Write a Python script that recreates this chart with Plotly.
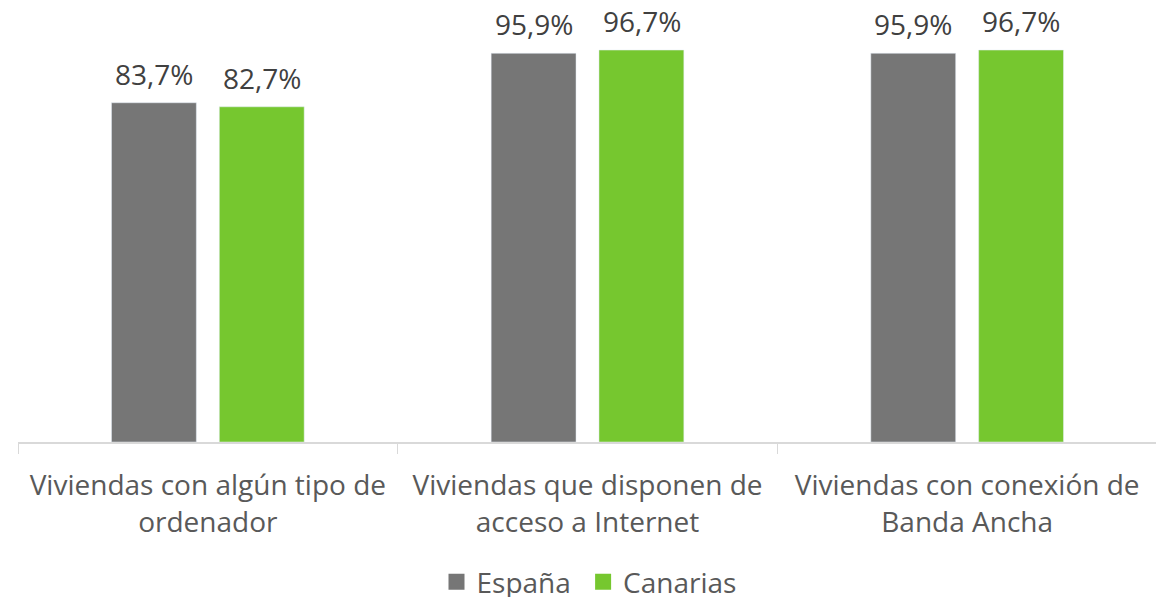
import plotly.graph_objects as go

categories = ["Viviendas con algún tipo de<br>ordenador",
              "Viviendas que disponen de<br>acceso a Internet",
              "Viviendas con conexión de<br>Banda Ancha"]
espana = [83.7, 95.9, 95.9]
canarias = [82.7, 96.7, 96.7]
series_names = ["España", "Canarias"]
colors = ["#767676", "#76C72F"]

def fmt(v):
    return f"{v:.1f}".replace(".", ",") + "%"

FS = 28
W, H = 1164, 597  # page body has an 8px margin, so the figure is offset by 8px
fig = go.Figure()
for name, vals, col in zip(series_names, [espana, canarias], colors):
    fig.add_trace(go.Bar(
        x=categories, y=vals, name=name, marker_color=col,
        showlegend=False, hoverinfo="skip",
    ))
# legend entries with larger square markers
for i, (name, col) in enumerate(zip(series_names, colors)):
    fig.add_trace(go.Scatter(
        x=[None], y=[None], mode="markers",
        name=name + ("\u00a0" if i == 0 else ""),
        marker=dict(symbol="square", size=18, color=col),
    ))

shifts = [-54, 54]
for vals, dx in zip([espana, canarias], shifts):
    for cat, v in zip(categories, vals):
        fig.add_annotation(x=cat, y=v, xref="x", yref="y", text=fmt(v),
                           showarrow=False, yanchor="bottom", xshift=dx, yshift=8,
                           font=dict(size=FS, color="#404040"))

fig.update_layout(
    width=W, height=H,
    margin=dict(l=10, r=15, t=8, b=163),
    plot_bgcolor="white", paper_bgcolor="white",
    font=dict(family="Open Sans", size=FS, color="#595959"),
    barmode="group", bargap=0.432, bargroupgap=0.213,
    showlegend=True,
    legend=dict(orientation="h", xref="container", x=581 / W, xanchor="center",
                yref="container", y=1 - 574 / H, yanchor="middle",
                font=dict(size=FS, color="#595959"), itemwidth=30, traceorder="normal"),
)
fig.update_xaxes(showline=True, linecolor="#d9d9d9", linewidth=1.5, automargin=False,
                 ticks="outside", tickson="boundaries", ticklen=10, tickcolor="#d9d9d9",
                 ticklabelstandoff=18,
                 tickfont=dict(size=FS, color="#595959"), showgrid=False)
fig.update_yaxes(range=[0, 105.1], visible=False, showgrid=False, automargin=False)

fig.write_html("out.html")
